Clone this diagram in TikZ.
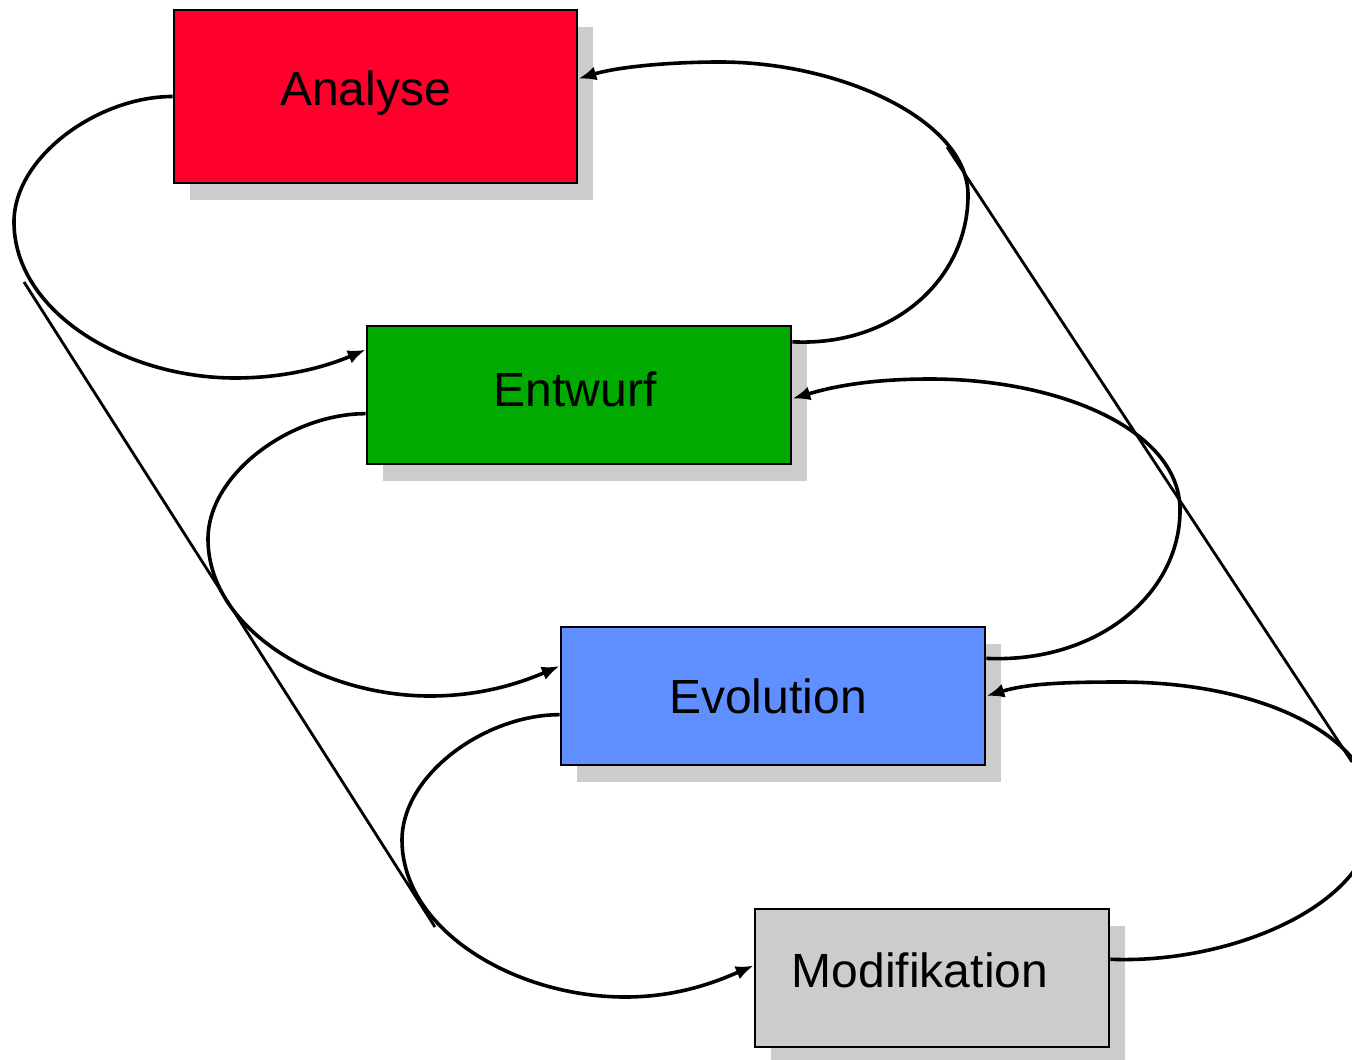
\documentclass[tikz,border=0pt]{standalone}
\usepackage{fontspec}
\newfontfamily\phasefont{Liberation Sans}
\usetikzlibrary{arrows.meta,shadows}
\definecolor{analysered}{RGB}{255,0,44}
\definecolor{entwurfgreen}{RGB}{0,170,0}
\definecolor{evolutionblue}{RGB}{96,144,255}
\definecolor{modgray}{RGB}{204,204,204}
\begin{document}
\begin{tikzpicture}[x=0.5pt, y=-0.5pt,
                    phase/.style={draw, rectangle, line width=1.3pt, inner sep=0pt, minimum height=69pt,
                                  font=\phasefont\fontsize{24}{28}\selectfont,
                                  drop shadow={shadow xshift=8pt, shadow yshift=-8.5pt, fill=modgray, opacity=1}},
                    arrow/.style={draw, line width=1.8pt, -{Latex[length=9pt,width=7pt]}},
                    edge/.style={draw, line width=1.4pt}]
  \useasboundingbox (0,0) rectangle (1352,1059);
  % phases
  \node(analyse)[phase, fill=analysered, minimum width=201.5pt, minimum height=86.5pt, text depth=8pt] at (375.5,96.5) {\hspace*{-10pt}Analyse};
  \node(entwurf)[phase, fill=entwurfgreen, minimum width=212pt, text depth=6pt] at (579,395) {\hspace*{-4pt}Entwurf};
  \node(evolution)[phase, fill=evolutionblue, minimum width=212pt] at (773,696) {\hspace*{-5pt}Evolution};
  \node(modifikation)[phase, fill=modgray, minimum width=177pt, text depth=8pt] at (932,978) {\hspace*{-12pt}Modifikation};
  % outline
  \coordinate(ltop) at (24,282);
  \coordinate(lbot) at (435,927);
  \coordinate(rtop) at (947,147);
  \coordinate(rbot) at (1352,762);
  \draw[edge] (ltop) -- (lbot);
  \draw[edge] (rtop) -- (rbot);
  % left loops
  \draw[arrow] (analyse.west) .. controls +(-75,0) and +(0,-65) .. (14,222)
    .. controls +(0,90) and +(-110,0) .. (235,378) .. controls +(55,0) and +(-35,15) .. (entwurf.168);
  \draw[arrow] (entwurf.185) .. controls +(-75,0) and +(0,-65) .. (208,539)
    .. controls +(0,90) and +(-110,0) .. (430,696) .. controls +(55,0) and +(-35,15) .. (evolution.172.5);
  \draw[arrow] (evolution.185) .. controls +(-75,0) and +(0,-65) .. (402,840)
    .. controls +(0,90) and +(-110,0) .. (625,997) .. controls +(55,0) and +(-35,15) .. (modifikation.176);
  % right loops
  \draw[arrow] (entwurf.14) .. controls +(100,5) and +(0,85) .. (968,195)
    .. controls +(0,-75) and +(120,0) .. (720,62) .. controls +(-50,0) and +(40,-12) .. (analyse.5);
  \draw[arrow] (evolution.10) .. controls +(110,5) and +(0,85) .. (1180,510)
    .. controls +(0,-80) and +(130,0) .. (930,379) .. controls +(-60,0) and +(40,-12) .. (entwurf.-1);
  \draw[arrow] (modifikation.6) .. controls +(120,5) and +(0,90) .. (1374,815)
    .. controls +(0,-80) and +(140,0) .. (1120,682) .. controls +(-60,0) and +(40,-12) .. (evolution.east);
\end{tikzpicture}
\end{document}
